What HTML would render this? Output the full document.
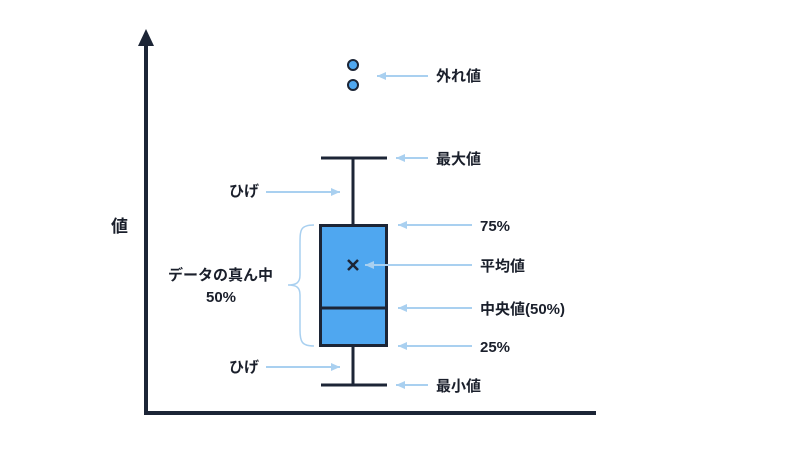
<!DOCTYPE html>
<html><head><meta charset="utf-8"><style>
html,body{margin:0;padding:0;background:#fff;}
svg{display:block;}
text{font-family:"Liberation Sans","Noto Sans CJK JP",sans-serif;font-weight:bold;font-size:15px;fill:#1a1f2b;}
</style></head><body>
<svg width="800" height="450" viewBox="0 0 800 450" xmlns="http://www.w3.org/2000/svg">
<defs>
<marker id="ah" markerWidth="10" markerHeight="10" refX="9" refY="5" orient="auto" markerUnits="userSpaceOnUse">
<path d="M0,1 L9,5 L0,9 Z" fill="#a9d0f0"/>
</marker>
</defs>
<line x1="146" y1="44" x2="146" y2="414" stroke="#1c2536" stroke-width="4"/>
<line x1="144" y1="413" x2="596" y2="413" stroke="#1c2536" stroke-width="4"/>
<path d="M138,46 L146,29 L154,46 Z" fill="#1c2536"/>
<line x1="353" y1="158" x2="353" y2="385" stroke="#1c2536" stroke-width="3"/>
<line x1="321" y1="158" x2="387" y2="158" stroke="#1c2536" stroke-width="3"/>
<line x1="321" y1="385" x2="387" y2="385" stroke="#1c2536" stroke-width="3"/>
<rect x="320.5" y="225.5" width="66" height="120" fill="#4fa7f0" stroke="#1c2536" stroke-width="3"/>
<line x1="320" y1="308" x2="387" y2="308" stroke="#1c2536" stroke-width="3"/>
<path d="M348,260 L358,270 M358,260 L348,270" stroke="#1c2536" stroke-width="2.5"/>
<circle cx="353" cy="65" r="5" fill="#4fa7f0" stroke="#1c2536" stroke-width="2"/>
<circle cx="353" cy="85" r="5" fill="#4fa7f0" stroke="#1c2536" stroke-width="2"/>
<g stroke="#a9d0f0" stroke-width="2" fill="none">
<line x1="428" y1="76" x2="377" y2="76" marker-end="url(#ah)"/>
<line x1="428" y1="158" x2="396" y2="158" marker-end="url(#ah)"/>
<line x1="266" y1="192" x2="340" y2="192" marker-end="url(#ah)"/>
<line x1="472" y1="225" x2="398" y2="225" marker-end="url(#ah)"/>
<line x1="472" y1="265" x2="365" y2="265" marker-end="url(#ah)"/>
<line x1="472" y1="308" x2="398" y2="308" marker-end="url(#ah)"/>
<line x1="472" y1="346" x2="398" y2="346" marker-end="url(#ah)"/>
<line x1="266" y1="367" x2="340" y2="367" marker-end="url(#ah)"/>
<line x1="428" y1="385" x2="396" y2="385" marker-end="url(#ah)"/>
<path d="M314,225 C300,225 300,230 300,245 L300,275 C300,283 296,285 288,285 C296,285 300,287 300,295 L300,330 C300,342 302,346 314,346" stroke-width="1.5"/>
</g>
<text x="436" y="81">外れ値</text>
<text x="436" y="164">最大値</text>
<text x="229" y="196">ひげ</text>
<text x="480" y="231">75%</text>
<text x="480" y="271">平均値</text>
<text x="480" y="314">中央値(50%)</text>
<text x="480" y="352">25%</text>
<text x="229" y="372">ひげ</text>
<text x="436" y="391">最小値</text>
<text x="111" y="232" style="font-size:17px">値</text>
<text x="168" y="280">データの真ん中</text>
<text x="206" y="302">50%</text>
</svg>
</body></html>
